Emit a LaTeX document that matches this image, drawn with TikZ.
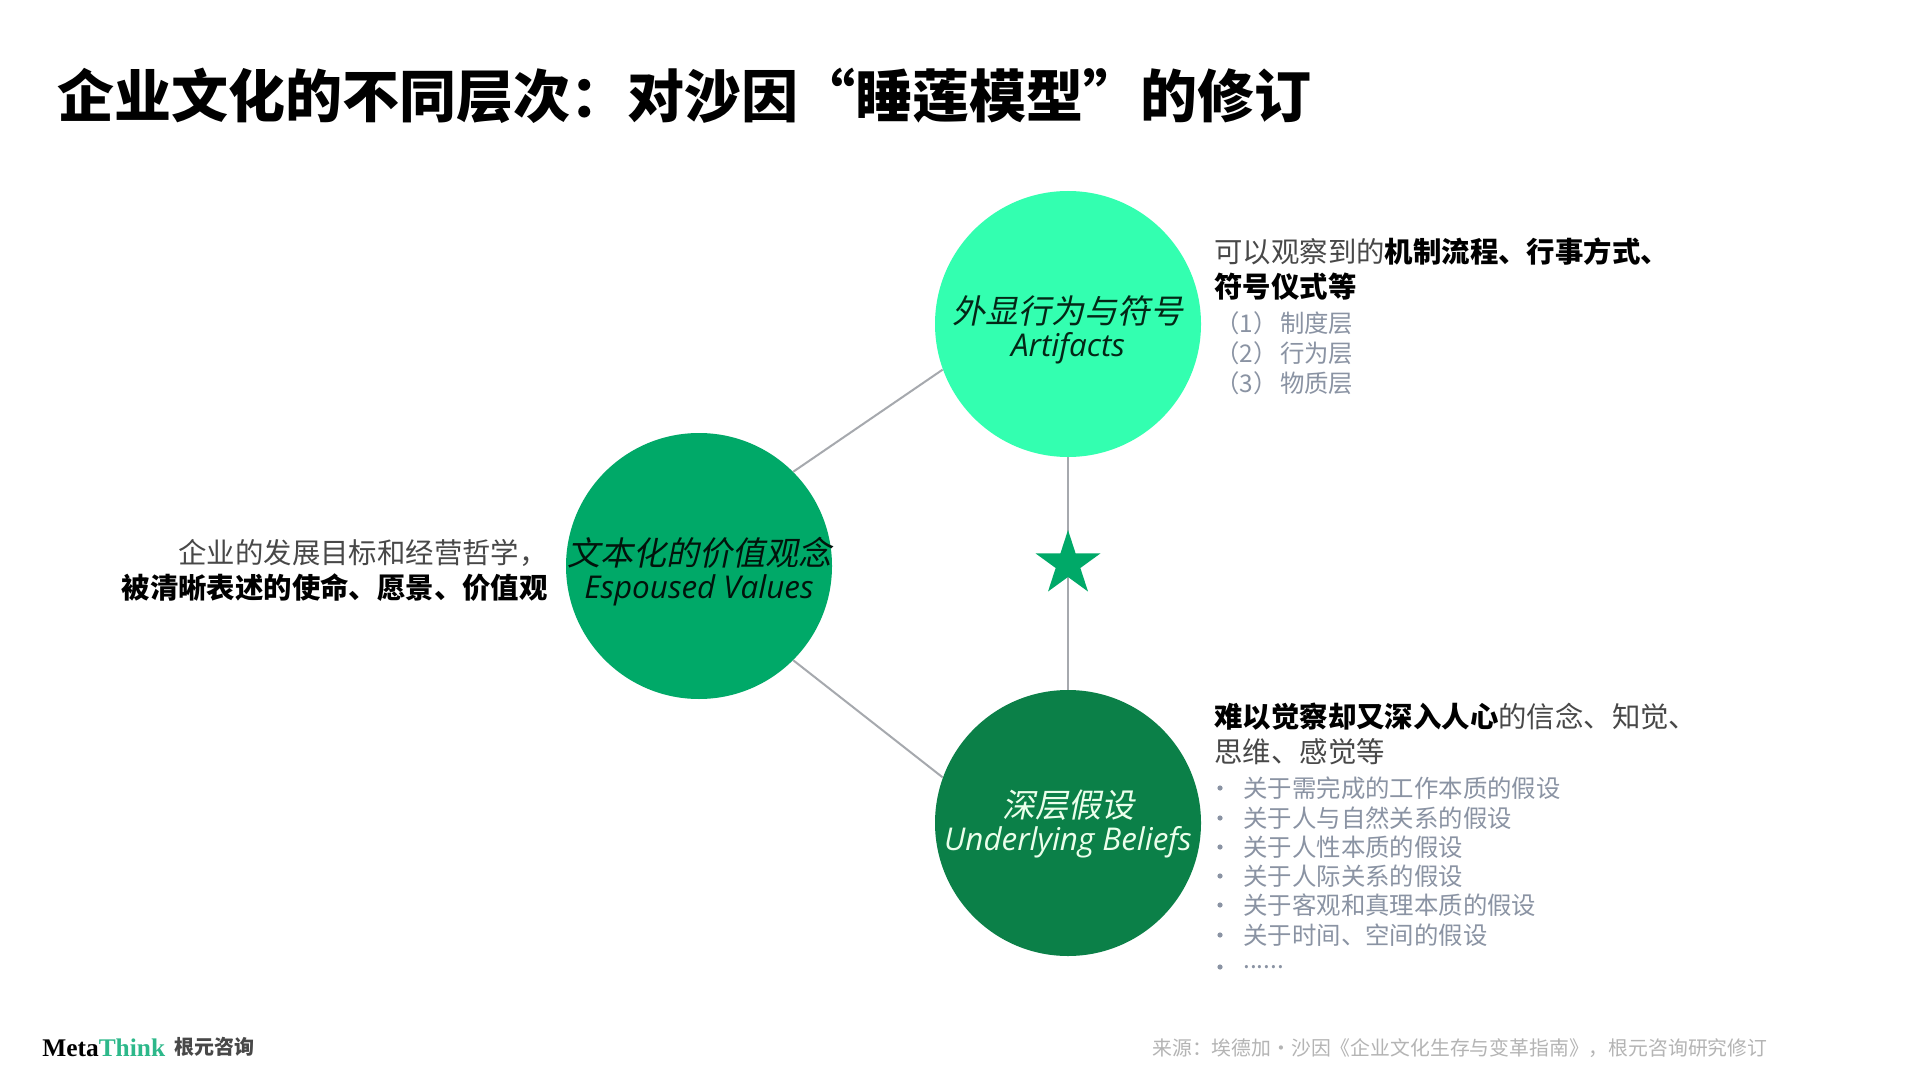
\documentclass[tikz,border=0pt]{standalone}
\usepackage{fontspec}
\usetikzlibrary{shapes.geometric}
\setmainfont{Noto Sans CJK SC}
\newfontfamily\cjkslant[FakeSlant=0.2]{Noto Sans CJK SC}
\newfontfamily\latinslant{Open Sans}
\newfontfamily\logofont{Liberation Serif}
\definecolor{mintgreen}{HTML}{33FFB0}
\definecolor{midgreen}{HTML}{00A968}
\definecolor{deepgreen}{HTML}{0B8048}
\definecolor{linkgrey}{HTML}{A6A9AE}
\definecolor{subgrey}{HTML}{8A93A3}
\definecolor{bodygrey}{HTML}{484848}
\definecolor{sourcegrey}{HTML}{B4B4B4}
\definecolor{thinkgreen}{HTML}{2DB88A}
\tikzset{
    layer/.style={circle, minimum size=133pt, inner sep=-30pt, align=center},
    link/.style={linkgrey, line width=1pt},
    note/.style={anchor=west, inner sep=0pt, align=left, text=bodygrey,
        font=\fontsize{14.2}{17.5}\selectfont},
    sub/.style={anchor=west, inner sep=0pt, text=subgrey,
        font=\fontsize{12.2}{14}\selectfont}
}
\newcommand{\layertext}[2]{{\cjkslant\fontsize{16.5}{18.5}\selectfont\rule{0pt}{20pt}#1}\\[2pt]{\latinslant\itshape\fontsize{15.7}{18}\selectfont #2}}
\newcommand{\moredots}{......}
\begin{document}
\begin{tikzpicture}[x=0.5pt, y=-0.5pt]
    \useasboundingbox[fill=white] (0,0) rectangle (1920,1080);
    % Title
    \node[anchor=west, inner sep=0pt, font=\fontsize{28.5}{32}\selectfont\bfseries] (title) at (57,96)
        {企业文化的不同层次：对沙因“睡莲模型”的修订};

    % Three layers
    \node[layer, fill=mintgreen, text=black!70!deepgreen] (artifacts) at (1068,324) {\layertext{外显行为与符号}{Artifacts}};
    \node[layer, fill=midgreen, text=black!85!deepgreen] (values) at (699,566) {\layertext{文本化的价值观念}{Espoused Values}};
    \node[layer, fill=deepgreen, text=green!8!white] (beliefs) at (1068,823) {\layertext{深层假设}{Underlying Beliefs\rule[-9pt]{0pt}{1pt}}};

    % Links
    \draw[link] (values.45) -- (artifacts.200);
    \draw[link] (values.-45) -- (beliefs.160);
    \draw[link] (artifacts) -- (beliefs);
    \node[star, star points=5, star point ratio=2.618, fill=midgreen, minimum size=34pt, inner sep=0pt] (core) at (1068,564) {};

    % Notes
    \node[note] (artnote) at (1214,269) {可以观察到的\textbf{\textcolor{black}{机制流程、行事方式、}}\\\textbf{\textcolor{black}{符号仪式等}}};
    \foreach \n/\y/\txt in {1/323/制度层, 2/353/行为层, 3/383/物质层}
        \node[sub] (art\n) at (1215,\y) {（\n）\hspace{1.2pt}\txt};
    \node[note, anchor=east, align=right] (valnote) at (548,570) {企业的发展目标和经营哲学，\hspace{7pt}\\\textbf{\textcolor{black}{被清晰表述的使命、愿景、价值观}}};
    \node[note] (belnote) at (1214,734) {\textbf{\textcolor{black}{难以觉察却又深入人心}}的信念、知觉、\\思维、感觉等};
    \foreach \n/\y/\txt in {1/788/关于需完成的工作本质的假设, 2/818/关于人与自然关系的假设, 3/847/关于人性本质的假设,
        4/876/关于人际关系的假设, 5/905/关于客观和真理本质的假设, 6/935/关于时间、空间的假设, 7/967/\moredots} {
        \node[sub] (bel\n) at (1243,\y) {\txt};
        \fill[subgrey] (1220,\y) circle (2.6);
    }

    % Footer
    \node[anchor=west, inner sep=0pt, font=\logofont\bfseries\fontsize{12.7}{16}\selectfont] (logo) at (42,1048)
        {Meta\textcolor{thinkgreen}{Think}};
    \node[anchor=west, inner sep=0pt, text=bodygrey, font=\fontsize{10}{12}\selectfont\bfseries] (brand) at (174,1047) {根元咨询};
    \node[anchor=west, inner sep=0pt, text=sourcegrey, font=\fontsize{9.92}{12}\selectfont] (source) at (1152,1048)
        {来源：埃德加·沙因《企业文化生存与变革指南》，根元咨询研究修订};
\end{tikzpicture}
\end{document}
